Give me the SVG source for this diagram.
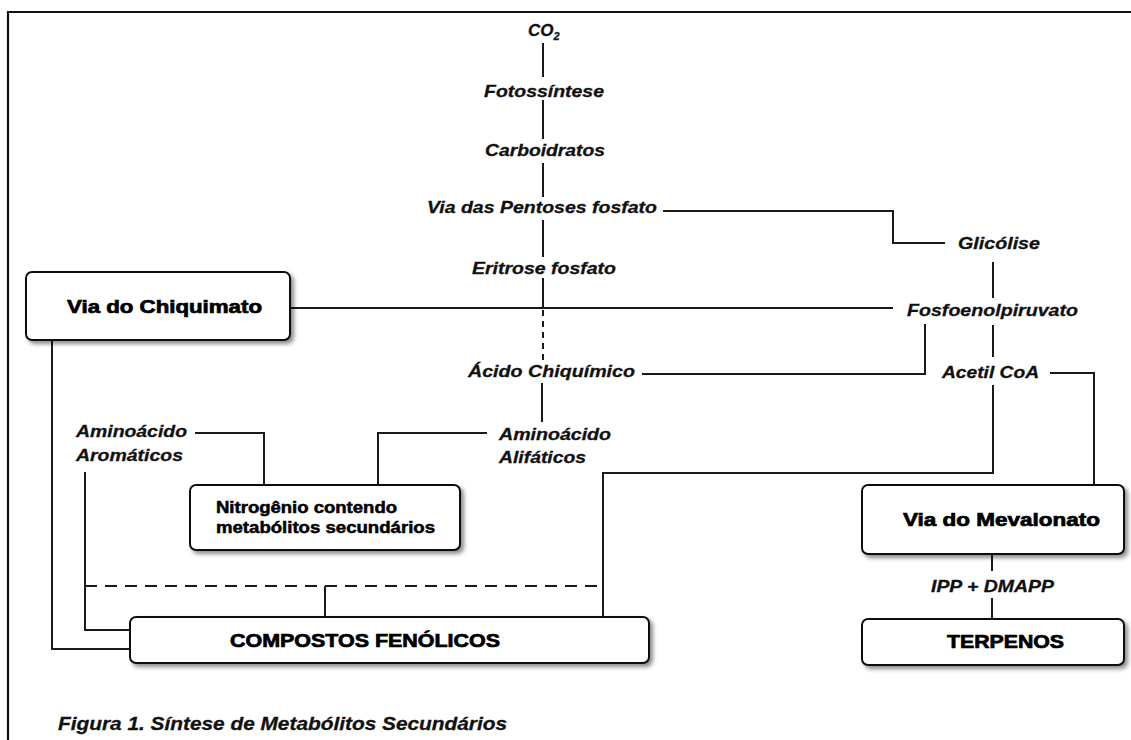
<svg xmlns="http://www.w3.org/2000/svg" width="1131" height="740" viewBox="0 0 1131 740">
<defs>
<filter id="sh" x="-10%" y="-20%" width="130%" height="160%">
<feDropShadow dx="3" dy="3" stdDeviation="2" flood-color="#000" flood-opacity="0.45"/>
</filter>
<style>
.ln{fill:none;stroke:#1a1a1a;stroke-width:2}
.dsh{stroke-dasharray:12 8}
.dsv{stroke-dasharray:6 5}
.box{fill:#fff;stroke:#111;stroke-width:2;filter:url(#sh)}
.lb{font-family:"Liberation Sans",Arial,sans-serif;font-weight:bold;font-style:italic;font-size:17px;fill:#111;stroke:#111;stroke-width:0.3}
.bx{font-family:"Liberation Sans",Arial,sans-serif;font-weight:bold;font-size:18px;fill:#000;stroke:#000;stroke-width:0.7}
.nb{font-family:"Liberation Sans",Arial,sans-serif;font-weight:bold;font-size:16px;fill:#000;stroke:#000;stroke-width:0.5}
.cap{font-family:"Liberation Sans",Arial,sans-serif;font-weight:bold;font-style:italic;font-size:18px;fill:#111;stroke:#111;stroke-width:0.3}
</style>
</defs>
<rect width="1131" height="740" fill="#fff"/>
<path d="M8,740 V12 H1131" fill="none" stroke="#111" stroke-width="2.2"/>

<g id="connectors">
<path class="ln" d="M543,43 V77"/>
<path class="ln" d="M543,100 V139"/>
<path class="ln" d="M543,163 V197"/>
<path class="ln" d="M543,220 V257"/>
<path class="ln" d="M663,211 H893 V243 H945"/>
<path class="ln" d="M543,278 V308"/>
<path class="ln dsv" d="M543,310 V360"/>
<path class="ln" d="M290,308 H893"/>
<path class="ln" d="M993,262 V298"/>
<path class="ln" d="M993,325 V357"/>
<path class="ln" d="M642,374 H925 V324"/>
<path class="ln" d="M542,383 V422"/>
<path class="ln" d="M487,433 H378 V485"/>
<path class="ln" d="M195,433 H264 V485"/>
<path class="ln" d="M993,385 V473 H603 V617"/>
<path class="ln" d="M1050,373 H1094 V485"/>
<path class="ln" d="M52,340 V649 H130"/>
<path class="ln" d="M85,472 V630 H130"/>
<path class="ln dsh" d="M85,586 H603"/>
<path class="ln" d="M325,586 V617"/>
<path class="ln" d="M992,554 V571"/>
<path class="ln" d="M992,598 V619"/>
</g>

<g id="co2"><text class="lb" x="528" y="36">CO<tspan font-size="11" dy="4">2</tspan></text></g>
<g id="fotossintese"><text class="lb" x="484" y="97" textLength="120" lengthAdjust="spacingAndGlyphs">Fotossíntese</text></g>
<g id="carboidratos"><text class="lb" x="485" y="156" textLength="120" lengthAdjust="spacingAndGlyphs">Carboidratos</text></g>
<g id="pentoses"><text class="lb" x="427" y="213" textLength="230" lengthAdjust="spacingAndGlyphs">Via das Pentoses fosfato</text></g>
<g id="glicolise"><text class="lb" x="958" y="249" textLength="82" lengthAdjust="spacingAndGlyphs">Glicólise</text></g>
<g id="eritrose"><text class="lb" x="472" y="274" textLength="144" lengthAdjust="spacingAndGlyphs">Eritrose fosfato</text></g>
<g id="fosfoenolpiruvato"><text class="lb" x="907" y="316" textLength="171" lengthAdjust="spacingAndGlyphs">Fosfoenolpiruvato</text></g>
<g id="acido"><text class="lb" x="468" y="377" textLength="167" lengthAdjust="spacingAndGlyphs">Ácido Chiquímico</text></g>
<g id="acetil"><text class="lb" x="942" y="378" textLength="97" lengthAdjust="spacingAndGlyphs">Acetil CoA</text></g>
<g id="alifaticos">
<text class="lb" x="499" y="440" textLength="112" lengthAdjust="spacingAndGlyphs">Aminoácido</text>
<text class="lb" x="499" y="463" textLength="87" lengthAdjust="spacingAndGlyphs">Alifáticos</text>
</g>
<g id="aromaticos">
<text class="lb" x="76" y="437" textLength="111" lengthAdjust="spacingAndGlyphs">Aminoácido</text>
<text class="lb" x="76" y="461" textLength="107" lengthAdjust="spacingAndGlyphs">Aromáticos</text>
</g>
<g id="ipp"><text class="lb" x="931" y="592" textLength="123" lengthAdjust="spacingAndGlyphs">IPP + DMAPP</text></g>

<g id="chiquimato">
<rect class="box" x="26" y="272" width="264" height="68" rx="6"/>
<text class="bx" x="67" y="313" textLength="195" lengthAdjust="spacingAndGlyphs">Via do Chiquimato</text>
</g>
<g id="nitrogenio">
<rect class="box" x="190" y="485" width="270" height="65" rx="6"/>
<text class="nb" x="216" y="513" textLength="181" lengthAdjust="spacingAndGlyphs">Nitrogênio contendo</text>
<text class="nb" x="216" y="533" textLength="219" lengthAdjust="spacingAndGlyphs">metabólitos secundários</text>
</g>
<g id="fenolicos">
<rect class="box" x="130" y="617" width="519" height="46" rx="6"/>
<text class="bx" x="230" y="647" textLength="270" lengthAdjust="spacingAndGlyphs">COMPOSTOS FENÓLICOS</text>
</g>
<g id="mevalonato">
<rect class="box" x="862" y="485" width="262" height="69" rx="6"/>
<text class="bx" x="903" y="526" textLength="197" lengthAdjust="spacingAndGlyphs">Via do Mevalonato</text>
</g>
<g id="terpenos">
<rect class="box" x="862" y="619" width="262" height="46" rx="6"/>
<text class="bx" x="947" y="648" textLength="117" lengthAdjust="spacingAndGlyphs">TERPENOS</text>
</g>
<g id="caption"><text class="cap" x="58" y="730" textLength="449" lengthAdjust="spacingAndGlyphs">Figura 1. Síntese de Metabólitos Secundários</text></g>
</svg>
